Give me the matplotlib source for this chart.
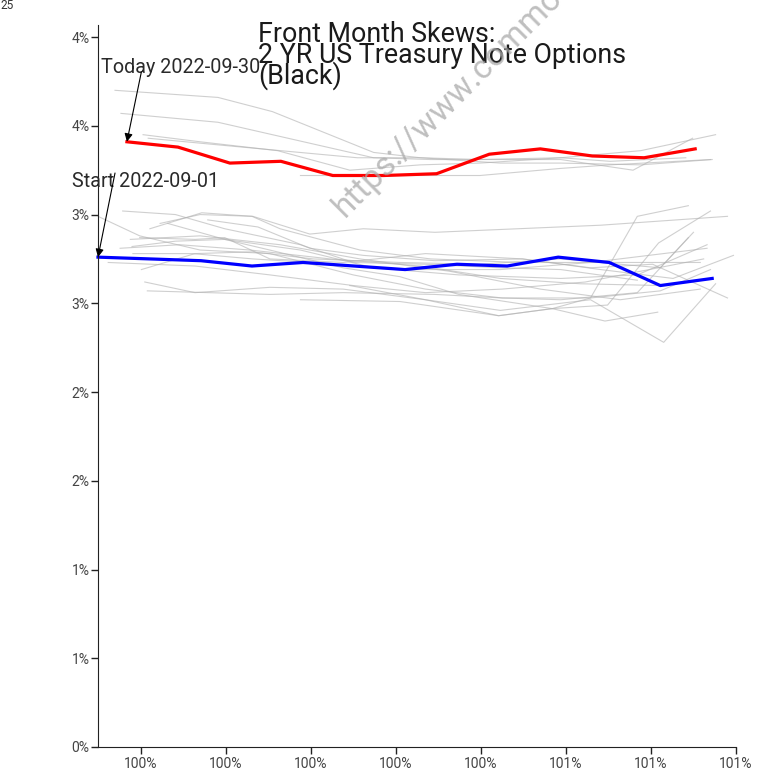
import numpy as np
import matplotlib.pyplot as plt

plt.rcParams['font.family'] = ['Roboto', 'DejaVu Sans']

# moneyness (%) and implied vol (%) for today / start of the month
red_x = [99.984, 100.044, 100.105, 100.165, 100.226, 100.286, 100.348,
         100.410, 100.470, 100.531, 100.592, 100.652]
red_y = [3.41, 3.38, 3.29, 3.30, 3.22, 3.22, 3.23, 3.34, 3.37, 3.33, 3.32, 3.37]

blue_x = [99.950, 100.011, 100.071, 100.131, 100.191, 100.251, 100.311,
          100.372, 100.431, 100.491, 100.551, 100.611, 100.672]
blue_y = [2.76, 2.75, 2.74, 2.71, 2.73, 2.71, 2.69, 2.72, 2.71, 2.76, 2.73, 2.60, 2.64]

# the other days in between
grey_x = [
    [99.970, 100.091, 100.155, 100.274, 100.329, 100.399, 100.494, 100.588, 100.676],
    [99.977, 100.091, 100.155, 100.274, 100.341, 100.423, 100.494, 100.579, 100.649],
    [100.003, 100.070, 100.161, 100.246, 100.329, 100.399, 100.494, 100.552, 100.641],
    [100.009, 100.097, 100.255, 100.329, 100.423, 100.494, 100.588, 100.672],
    [100.188, 100.282, 100.399, 100.494, 100.552, 100.670],
    [100.023, 100.070, 100.132, 100.199, 100.262, 100.346, 100.541, 100.690],
    [99.979, 100.041, 100.099, 100.188, 100.250, 100.335, 100.423, 100.494, 100.584],
    [99.950, 99.999, 100.070, 100.152, 100.250, 100.335, 100.425, 100.494, 100.584, 100.644],
    [100.032, 100.099, 100.152, 100.238, 100.305, 100.374, 100.484, 100.549, 100.609, 100.670],
    [100.079, 100.138, 100.199, 100.262, 100.346, 100.449, 100.529, 100.602, 100.690],
    [99.999, 100.064, 100.099, 100.152, 100.238, 100.335, 100.449, 100.541, 100.626, 100.697],
    [99.990, 100.041, 100.099, 100.188, 100.274, 100.374, 100.494, 100.584, 100.666],
    [99.991, 100.061, 100.132, 100.199, 100.305, 100.423, 100.529, 100.666],
    [99.962, 100.064, 100.152, 100.250, 100.335, 100.425, 100.523, 100.662],
    [100.001, 100.064, 100.132, 100.203, 100.305, 100.399, 100.494, 100.611, 100.650],
    [100.005, 100.064, 100.152, 100.238, 100.335, 100.421, 100.484, 100.529, 100.584, 100.644],
    [100.008, 100.152, 100.238, 100.346, 100.425, 100.529, 100.611, 100.670],
    [100.188, 100.305, 100.421, 100.484, 100.546, 100.608],
    [100.246, 100.335, 100.423, 100.529, 100.615, 100.676],
    [100.011, 100.072, 100.131, 100.164, 100.258, 100.341, 100.446, 100.541, 100.658],
    [99.976, 100.046, 100.129, 100.223, 100.329, 100.423, 100.517, 100.611],
    [99.988, 100.070, 100.164, 100.258, 100.364, 100.470, 100.564, 100.658],
]
grey_y = [
    [3.70, 3.66, 3.58, 3.35, 3.32, 3.31, 3.32, 3.36, 3.45],
    [3.57, 3.52, 3.45, 3.32, 3.31, 3.31, 3.31, 3.25, 3.43],
    [3.45, 3.41, 3.36, 3.25, 3.28, 3.29, 3.32, 3.30, 3.32],
    [3.43, 3.39, 3.32, 3.32, 3.29, 3.29, 3.28, 3.31],
    [3.22, 3.22, 3.22, 3.26, 3.28, 3.31],
    [2.95, 3.00, 2.99, 2.89, 2.92, 2.90, 2.94, 2.99],
    [3.02, 3.00, 2.92, 2.83, 2.73, 2.72, 2.70, 2.69, 2.63],
    [2.99, 2.88, 2.80, 2.78, 2.66, 2.58, 2.53, 2.52, 2.56, 2.87],
    [2.95, 2.86, 2.80, 2.70, 2.65, 2.55, 2.47, 2.49, 2.84, 3.02],
    [2.97, 2.93, 2.81, 2.77, 2.74, 2.75, 2.70, 2.72, 2.53],
    [2.87, 2.86, 2.87, 2.75, 2.73, 2.78, 2.75, 2.69, 2.64, 2.77],
    [2.82, 2.85, 2.86, 2.80, 2.70, 2.66, 2.64, 2.66, 2.83],
    [2.78, 2.78, 2.75, 2.73, 2.69, 2.69, 2.73, 2.81],
    [2.73, 2.71, 2.66, 2.60, 2.56, 2.58, 2.62, 2.75],
    [2.69, 2.78, 2.79, 2.75, 2.73, 2.72, 2.75, 2.70, 2.90],
    [2.62, 2.56, 2.59, 2.58, 2.52, 2.43, 2.47, 2.53, 2.99, 3.05],
    [2.57, 2.55, 2.56, 2.55, 2.53, 2.53, 2.57, 2.69],
    [2.52, 2.51, 2.43, 2.47, 2.40, 2.45],
    [2.60, 2.52, 2.46, 2.52, 2.28, 2.61],
    [2.92, 3.01, 2.99, 2.92, 2.80, 2.75, 2.73, 2.73, 2.73],
    [2.81, 2.83, 2.80, 2.75, 2.71, 2.64, 2.61, 2.60],
    [2.86, 2.88, 2.83, 2.75, 2.68, 2.58, 2.52, 2.58],
]

x_ticks = [100.0, 100.1, 100.2, 100.3, 100.4, 100.5, 100.6, 100.7]
x_labels = ['100%', '100%', '100%', '100%', '100%', '101%', '101%', '101%']
y_ticks = [0, 0.5, 1, 1.5, 2, 2.5, 3, 3.5, 4]
y_labels = ['0%', '1%', '1%', '2%', '2%', '3%', '3%', '4%', '4%']

fig = plt.figure(figsize=(7.68, 7.72), dpi=100)
ax = fig.add_axes([98 / 768, 25 / 772, 638 / 768, 722 / 772])

for xs, ys in zip(grey_x, grey_y):
    ax.plot(xs, ys, color='#b0b0b0', lw=0.8, alpha=0.6, clip_on=False)
ax.plot(blue_x, blue_y, color='blue', lw=2.3, clip_on=False)
ax.plot(red_x, red_y, color='red', lw=2.3, clip_on=False)

ax.set_xlim(99.95, 100.70)
ax.set_ylim(0, 4.068)
ax.set_xticks(x_ticks)
ax.set_xticklabels(x_labels)
ax.set_yticks(y_ticks)
ax.set_yticklabels(y_labels)
ax.tick_params(labelsize=10, labelcolor='#444444', color='#222222', length=5, width=1)
ax.tick_params(axis='x', pad=2)
ax.tick_params(axis='y', pad=1)
for s in ['top', 'right']:
    ax.spines[s].set_visible(False)
for s in ['left', 'bottom']:
    ax.spines[s].set_color('#222222')

# annotations
ax.text(99.954, 3.797, 'Today 2022-09-30', fontsize=14.2, color='#2a2a2a')
ax.annotate('', xy=(red_x[0], red_y[0]), xytext=(100.001, 3.804),
            arrowprops=dict(arrowstyle='-|>', color='black', lw=0.8,
                            mutation_scale=12, shrinkA=0, shrinkB=0))
ax.text(99.919, 3.155, 'Start 2022-09-01', fontsize=14.2, color='#2a2a2a')
ax.annotate('', xy=(blue_x[0], blue_y[0]), xytext=(99.970, 3.234),
            arrowprops=dict(arrowstyle='-|>', color='black', lw=0.8,
                            mutation_scale=12, shrinkA=0, shrinkB=0))

# title
title_lines = ['Front Month Skews:', '2 YR US Treasury Note Options', '(Black)']
for i, line in enumerate(title_lines):
    fig.text(258 / 768, 1 - (42 + 20.7 * i) / 772, line, fontsize=19.3,
             color='#1a1a1a', va='baseline')

# watermark
fig.text(345 / 768, 1 - 218 / 772, 'https://www.commoditiesvol.com', fontsize=24,
         color='#aaaaaa', alpha=0.75, rotation=45,
         rotation_mode='anchor', ha='left', va='baseline')

fig.text(14 / 768, 1 - 9 / 772, '25', fontsize=8.5, color='#333333', ha='right')

fig.savefig('out.png', dpi=100)
